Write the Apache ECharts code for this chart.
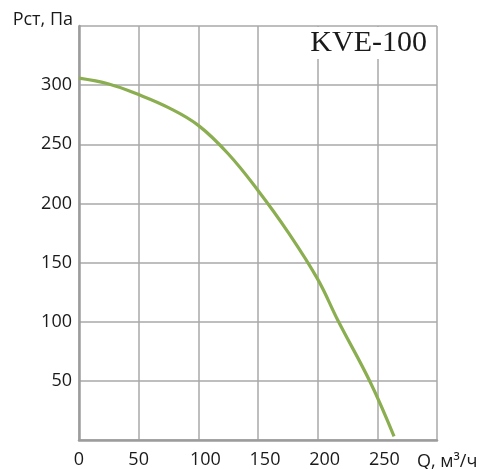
<!DOCTYPE html>
<html>
<head>
<meta charset="utf-8">
<script src="https://cdn.jsdelivr.net/npm/echarts@6/dist/echarts.min.js"></script>
<style>
html,body{margin:0;padding:0;background:#fff;}
#c{width:481px;height:469px;}
</style>
</head>
<body>
<div id="c"></div>
<script>
var flowQ = [0, 25, 50, 75, 100, 125, 150, 175, 200, 217, 244, 264];
var pressure = [306, 301, 292, 281, 266, 242, 211, 176, 136, 101, 49, 3];
var xTicks = [0, 50, 100, 150, 200, 250];
var yTicks = [50, 100, 150, 200, 250, 300];
var title = 'KVE-100';
var yName = 'Рст, Па';
var xName = 'Q, м³/ч';

var points = flowQ.map(function (q, i) { return [q, pressure[i]]; });
var font = '"Open Sans", sans-serif';

var chart = echarts.init(document.getElementById('c'));
chart.setOption({
  animation: false,
  backgroundColor: '#fff',
  grid: { left: 79, right: 44, top: 26, bottom: 27 },
  xAxis: {
    type: 'value', min: 0, max: 300, interval: 50,
    axisLine: { show: true, onZero: false, lineStyle: { color: '#9c9c9c', width: 2.5 } },
    axisTick: { show: false },
    splitLine: { show: true, lineStyle: { color: '#a9a9a9', width: 1.5 } },
    axisLabel: {
      margin: 11, color: '#1a1a1a', fontFamily: font, fontSize: 18,
      formatter: function (v) {
        if (xTicks.indexOf(v) < 0) return '';
        return v >= 100 ? '{w|' + v + '}' : String(v);
      },
      rich: { w: { padding: [0, 0, 0, 14], fontFamily: font, fontSize: 18, color: '#1a1a1a' } }
    }
  },
  yAxis: {
    type: 'value', min: 0, max: 350, interval: 50,
    axisLine: { show: true, onZero: false, lineStyle: { color: '#9c9c9c', width: 2.5 } },
    axisTick: { show: false },
    splitLine: { show: true, lineStyle: { color: '#a9a9a9', width: 1.5 } },
    axisLabel: {
      margin: 7, color: '#1a1a1a', fontFamily: font, fontSize: 18,
      formatter: function (v) { return yTicks.indexOf(v) < 0 ? '' : String(v); }
    }
  },
  series: [{
    type: 'line',
    data: points,
    smooth: 0.4,
    showSymbol: false,
    lineStyle: { color: '#8aae50', width: 3.2 },
    z: 3
  }],
  graphic: [
    { type: 'rect', z: 100, shape: { x: 303, y: 27, width: 128, height: 32 }, style: { fill: '#fff' } },
    { type: 'text', z: 101, x: 427, y: 43, style: { text: title, textAlign: 'right', textVerticalAlign: 'middle', fill: '#1a1a1a', font: '30px "Liberation Serif", serif' } },
    { type: 'text', z: 101, x: 73, y: 20, style: { text: yName, textAlign: 'right', textVerticalAlign: 'middle', fill: '#1a1a1a', font: '18px "Open Sans", sans-serif' } },
    { type: 'text', z: 101, x: 417, y: 462, style: { text: xName, textAlign: 'left', textVerticalAlign: 'middle', fill: '#1a1a1a', font: '18px "Open Sans", sans-serif' } }
  ]
});
</script>
</body>
</html>
